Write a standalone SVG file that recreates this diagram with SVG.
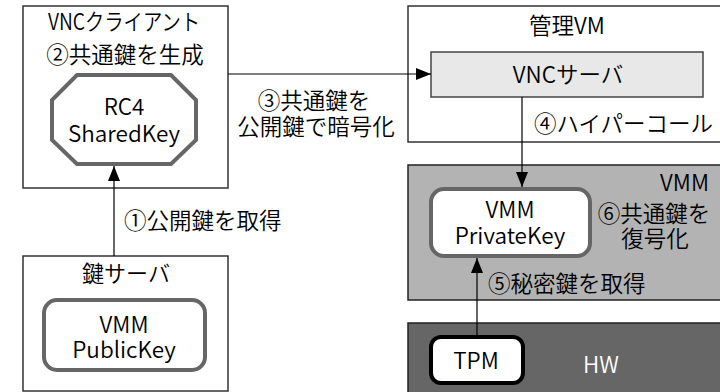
<svg xmlns="http://www.w3.org/2000/svg" width="720" height="392" viewBox="0 0 720 392">
<defs>
<style>
text{font-family:"Noto Sans CJK JP","Noto Sans",sans-serif;font-size:22.5px;font-weight:350;fill:#000;text-anchor:middle}
.st{text-anchor:start}
.box{fill:#fff;stroke:#333;stroke-width:1.5}
.key{fill:#fff;stroke:#666;stroke-width:4}
.conn{stroke:#000;stroke-width:1.2;fill:none}
</style>
<marker id="ah" markerWidth="15" markerHeight="12" refX="15" refY="6" orient="auto" markerUnits="userSpaceOnUse">
<path d="M0,0 L15,6 L0,12 Z" fill="#000"/>
</marker>
</defs>
<g id="vnc-client">
<rect class="box" x="23" y="6" width="205" height="182"/>
<text x="124" y="30" textLength="152" lengthAdjust="spacingAndGlyphs">VNCクライアント</text>
<text x="125" y="63">②共通鍵を生成</text>
</g>
<g id="shared-key">
<polygon class="key" points="77,75 171,75 196,100 196,140 171,164 77,164 52,140 52,100"/>
<text x="124" y="115">RC4</text>
<text x="124" y="142">SharedKey</text>
</g>
<g id="key-server">
<rect class="box" x="23" y="256" width="205" height="135"/>
<text x="126" y="282" textLength="88" lengthAdjust="spacingAndGlyphs">鍵サーバ</text>
</g>
<g id="public-key">
<rect class="key" x="44" y="300" width="161" height="70" rx="13"/>
<text x="124" y="333">VMM</text>
<text x="124" y="358">PublicKey</text>
</g>
<g id="mgmt-vm">
<rect class="box" x="408" y="6" width="318" height="136"/>
<text x="567" y="34">管理VM</text>
</g>
<g id="vnc-server">
<rect x="431" y="52" width="272" height="45" fill="#e8e8e8" stroke="#444" stroke-width="1.5"/>
<text x="568" y="83">VNCサーバ</text>
</g>
<g id="vmm">
<rect x="408" y="165" width="318" height="135" fill="#b3b3b3" stroke="#222" stroke-width="1.5"/>
<text x="709" y="191" style="text-anchor:end">VMM</text>
<text x="654" y="222">⑥共通鍵を</text>
<text x="655" y="247">復号化</text>
</g>
<g id="private-key">
<rect class="key" x="431" y="189" width="159" height="67" rx="13"/>
<text x="510" y="218">VMM</text>
<text x="510" y="244">PrivateKey</text>
</g>
<g id="hw">
<rect x="408" y="323" width="318" height="75" fill="#666" stroke="#222" stroke-width="1.5"/>
<text x="583" y="373" class="st" style="fill:#fff">HW</text>
</g>
<g id="tpm">
<rect x="431" y="337" width="92" height="46" rx="10" fill="#fff" stroke="#000" stroke-width="4"/>
<text x="476" y="369">TPM</text>
</g>
<g id="connectors">
<line class="conn" x1="114" y1="256" x2="114" y2="166" marker-end="url(#ah)"/>
<line class="conn" x1="228" y1="74" x2="431" y2="74" marker-end="url(#ah)"/>
<line class="conn" x1="522" y1="97" x2="522" y2="187" marker-end="url(#ah)"/>
<line class="conn" x1="477" y1="335" x2="477" y2="258" marker-end="url(#ah)"/>
</g>
<g id="labels">
<text x="124" y="229" class="st">①公開鍵を取得</text>
<text x="314" y="109">③共通鍵を</text>
<text x="316" y="135">公開鍵で暗号化</text>
<text x="534" y="132" class="st">④ハイパーコール</text>
<text x="488" y="292" class="st">⑤秘密鍵を取得</text>
</g>
</svg>
